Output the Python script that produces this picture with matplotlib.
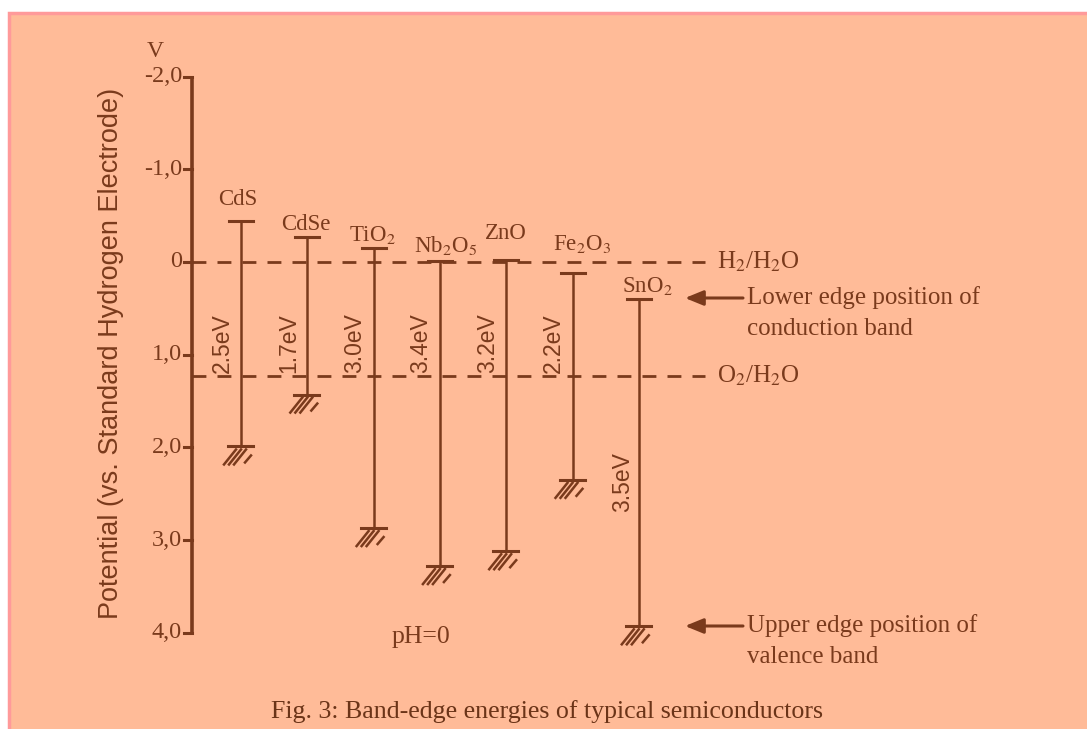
import numpy as np
import matplotlib
matplotlib.use('Agg')
import matplotlib.pyplot as plt
from matplotlib.patches import Rectangle

# band edges (V vs. SHE)
materials = ['CdS', 'CdSe', 'TiO$_2$', 'Nb$_2$O$_5$', 'ZnO', 'Fe$_2$O$_3$', 'SnO$_2$']
conduction = [-0.44, -0.27, -0.15, -0.01, -0.02, 0.12, 0.40]
valence = [1.99, 1.43, 2.87, 3.28, 3.12, 2.35, 3.93]
gap_labels = ['2.5eV', '1.7eV', '3.0eV', '3.4eV', '3.2eV', '2.2eV', '3.5eV']
redox_levels = [0.0, 1.23]
redox_names = ['H$_2$/H$_2$O', 'O$_2$/H$_2$O']
tick_values = [-2, -1, 0, 1, 2, 3, 4]
tick_labels = ['-2,0', '-1,0', '0', '1,0', '2,0', '3,0', '4,0']

BROWN = '#7a3a1c'
SALMON = '#ffbb98'
BORDER = '#ff9a9a'

W, H = 1087, 729
Y0, PPU = 262.0, 92.7          # pixel row of 0 V, pixels per volt


def px(p):
    # pixel distance -> volts
    return p / PPU


plt.rcParams['font.family'] = ['Liberation Serif', 'DejaVu Serif']
plt.rcParams['mathtext.fontset'] = 'stix'
SANS = ['Liberation Sans', 'DejaVu Sans']

fig = plt.figure(figsize=(W / 100, H / 100), dpi=100)
fig.patch.set_facecolor('white')
bg = Rectangle((9 / W, -0.05), 1.05, 1.05 - 13 / H, transform=fig.transFigure,
               facecolor=SALMON, edgecolor=BORDER, lw=2.5, zorder=-10)
fig.patches.append(bg)

ax = fig.add_axes([0, 0, 1, 1])
ax.set_xlim(0, W)
ax.set_ylim((H - Y0) / PPU, -Y0 / PPU)
ax.axis('off')

# potential axis
axis_x = 192
ax.plot([axis_x, axis_x], [tick_values[0], tick_values[-1]], color=BROWN, lw=2.6,
        solid_capstyle='butt')
for v, lab in zip(tick_values, tick_labels):
    ax.plot([axis_x - 8, axis_x], [v, v], color=BROWN, lw=2.2)
    ax.text(axis_x - 10, v, lab, ha='right', va='center', fontsize=17.5, color=BROWN)
ax.text(155, tick_values[0] - px(25), 'V', ha='center', va='center', fontsize=17,
        color=BROWN)
ax.text(111, px(353 - Y0), 'Potential (vs. Standard Hydrogen Electrode)', rotation=90,
        ha='center', va='center', fontsize=19.5, color=BROWN, family=SANS)

# redox levels
dash_end = 705
for v, name in zip(redox_levels, redox_names):
    ax.plot([axis_x, dash_end], [v, v], color=BROWN, lw=2, dashes=(5, 4))
    ax.text(dash_end + 12, v, name, ha='left', va='center', fontsize=18, color=BROWN)

# semiconductors
bar_x = 241 + 66.3 * np.arange(len(materials))
label_pos = [(238, 205), (306, 230), (372, 241), (446, 252), (506, 239), (582, 250), (647, 292)]
gap_pos = [(-19, 343)] * 6 + [(-16, 482)]

for i, (name, cb, vb, gl) in enumerate(zip(materials, conduction, valence, gap_labels)):
    x = bar_x[i]
    ax.plot([x, x], [cb, vb], color=BROWN, lw=1.8)
    ax.plot([x - 12, x + 12], [cb, cb], color=BROWN, lw=2.2)
    # ground-like hatch at valence edge
    ax.plot([x - 13, x + 12], [vb, vb], color=BROWN, lw=2.2)
    for k, sx in enumerate([x - 5, x, x + 5, x + 10]):
        if k < 3:
            ax.plot([sx, sx - 12], [vb + px(3), vb + px(18)], color=BROWN, lw=1.8)
        else:
            ax.plot([sx, sx - 6], [vb + px(9), vb + px(16)], color=BROWN, lw=1.8)
    lx, ly = label_pos[i]
    ax.text(lx, px(ly - Y0), name, ha='center', va='baseline', fontsize=16.5, color=BROWN)
    gdx, gy = gap_pos[i]
    ax.text(x + gdx, px(gy - Y0), gl, rotation=90, ha='center', va='center', fontsize=16.5,
            color=BROWN, family=SANS)

# arrows with notes
for v_row, lines in [(298, ['Lower edge position of', 'conduction band']),
                     (626, ['Upper edge position of', 'valence band'])]:
    v = px(v_row - Y0)
    ax.annotate('', xy=(685, v), xytext=(743, v),
                arrowprops=dict(arrowstyle='-|>,head_length=1.1,head_width=0.45',
                                color=BROWN, lw=2.2, shrinkA=0, shrinkB=0))
    ax.text(747, v, lines[0], ha='left', va='center', fontsize=18, color=BROWN)
    ax.text(747, v + px(31), lines[1], ha='left', va='center', fontsize=18, color=BROWN)

ax.text(421, px(637 - Y0), 'pH=0', ha='center', va='center', fontsize=18.5, color=BROWN)
ax.text(547, px(712 - Y0), 'Fig. 3: Band-edge energies of typical semiconductors',
        ha='center', va='center', fontsize=18.6, color='#6b3418')

fig.savefig('out.png', dpi=100)
